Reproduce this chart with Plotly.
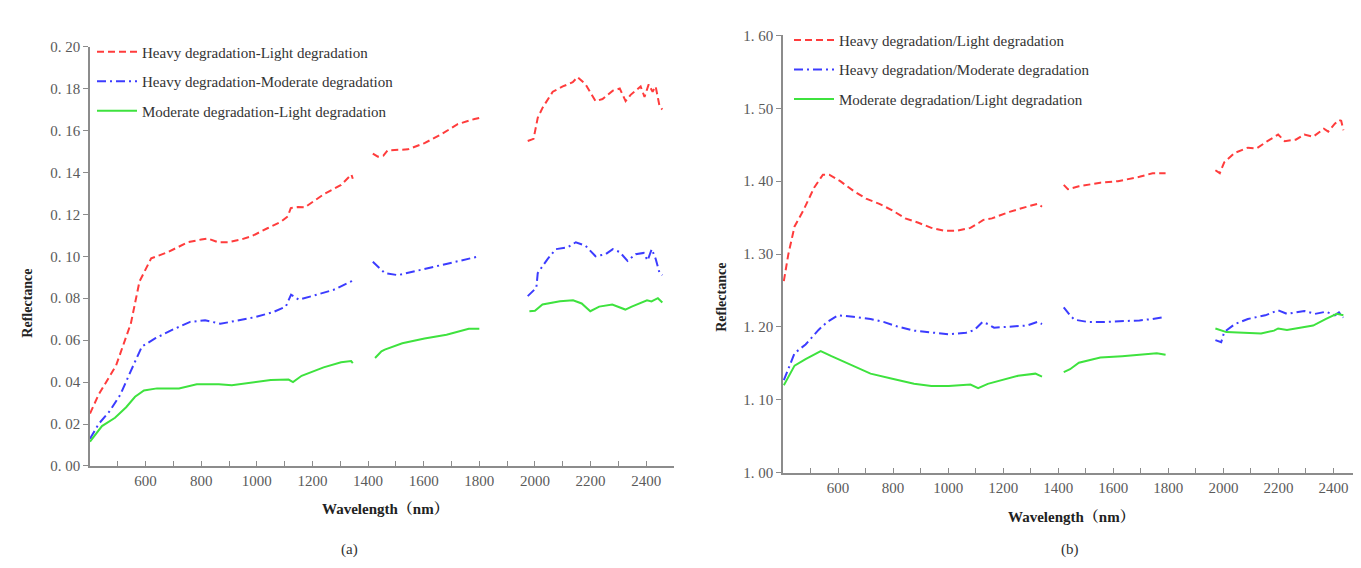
import plotly.graph_objects as go

# ---------------- data: panel (a) differences ----------------
a_red_wl = [400, 431, 494, 547, 578, 608, 620, 680, 752, 800, 824, 860, 896, 943, 980, 1040, 1087, 1111, 1122, 1147,
            1172, 1243, 1303, 1340, 1345, None,
            1417, 1435, 1455, 1470, 1543, 1603, 1661, 1722, 1783, 1800, None,
            1974, 1995, 2010, 2028, 2064, 2100, 2136, 2153, 2182, 2218, 2243, 2280, 2305, 2326, 2344, 2380, 2394,
            2409, 2423, 2434, 2448, 2458]
a_red_v = [0.025, 0.034, 0.048, 0.068, 0.088, 0.0955, 0.099, 0.102, 0.1067, 0.108, 0.1085, 0.1067, 0.1067, 0.108,
           0.1095, 0.1135, 0.1165, 0.119, 0.123, 0.1235, 0.1233, 0.1298, 0.134, 0.139, 0.137, None,
           0.149, 0.1475, 0.148, 0.1505, 0.151, 0.154, 0.158, 0.163, 0.1655, 0.166, None,
           0.155, 0.156, 0.166, 0.171, 0.1785, 0.181, 0.183, 0.1855, 0.182, 0.174, 0.175, 0.179, 0.180, 0.174,
           0.177, 0.181, 0.176, 0.182, 0.1785, 0.181, 0.1716, 0.170]

a_blue_wl = [400, 431, 470, 509, 556, 587, 634, 697, 760, 814, 869, 932, 994, 1057, 1104, 1123, 1151, 1198, 1276,
             1339, 1345, None,
             1417, 1460, 1507, 1603, 1661, 1783, 1800, None,
             1974, 1995, 2005, 2010, 2046, 2075, 2118, 2147, 2182, 2218, 2254, 2280, 2305, 2333, 2362, 2391, 2405,
             2420, 2434, 2448, 2458]
a_blue_v = [0.013, 0.020, 0.026, 0.034, 0.048, 0.057, 0.0608, 0.065, 0.0687, 0.0695, 0.0678, 0.0695, 0.071, 0.0733,
            0.076, 0.0817, 0.0793, 0.081, 0.084, 0.088, 0.087, None,
            0.0974, 0.092, 0.091, 0.094, 0.0957, 0.0995, 0.100, None,
            0.081, 0.0835, 0.085, 0.092, 0.0988, 0.1034, 0.1043, 0.1067, 0.105, 0.100, 0.101, 0.1034, 0.102,
            0.0978, 0.101, 0.1016, 0.098, 0.1034, 0.0988, 0.092, 0.091]

a_green_wl = [400, 443, 490, 530, 562, 594, 641, 720, 784, 863, 910, 989, 1050, 1114, 1130, 1161, 1240, 1303, 1339,
              1345, None,
              1425, 1448, 1460, 1523, 1603, 1682, 1762, 1800, None,
              1980, 2000, 2027, 2090, 2137, 2168, 2199, 2231, 2278, 2325, 2348, 2403, 2419, 2442, 2458]
a_green_v = [0.0116, 0.019, 0.023, 0.028, 0.033, 0.036, 0.037, 0.037, 0.039, 0.039, 0.0385, 0.0398, 0.041, 0.0412,
             0.040, 0.043, 0.047, 0.0495, 0.050, 0.049, None,
             0.0515, 0.0547, 0.0555, 0.0585, 0.0608, 0.0626, 0.0654, 0.0654, None,
             0.0738, 0.074, 0.077, 0.0785, 0.079, 0.0775, 0.0738, 0.076, 0.077, 0.0746, 0.076, 0.079, 0.0785,
             0.080, 0.078]

# ---------------- data: panel (b) ratios ----------------
b_red_wl = [403, 419, 442, 474, 513, 545, 568, 608, 655, 702, 750, 797, 844, 892, 939, 986, 1033, 1081, 1112, 1128,
            1159, 1223, 1286, 1325, 1341, None,
            1420, 1435, 1475, 1553, 1617, 1695, 1743, 1790, None,
            1971, 1987, 2003, 2042, 2089, 2121, 2160, 2199, 2223, 2263, 2294, 2326, 2365, 2381, 2405, 2420, 2428,
            2436]
b_red_v = [1.263, 1.299, 1.338, 1.360, 1.391, 1.409, 1.409, 1.400, 1.387, 1.376, 1.369, 1.360, 1.349, 1.343, 1.336,
           1.332, 1.332, 1.336, 1.343, 1.347, 1.349, 1.358, 1.365, 1.369, 1.365, None,
           1.395, 1.389, 1.393, 1.398, 1.400, 1.406, 1.411, 1.411, None,
           1.415, 1.411, 1.426, 1.439, 1.446, 1.445, 1.455, 1.464, 1.455, 1.457, 1.464, 1.461, 1.472, 1.468,
           1.479, 1.484, 1.483, 1.470]

b_blue_wl = [403, 442, 482, 529, 561, 600, 655, 718, 765, 813, 876, 939, 1002, 1065, 1096, 1125, 1144, 1167, 1223,
             1286, 1325, 1341, None,
             1420, 1443, 1459, 1506, 1569, 1632, 1695, 1743, 1790, None,
             1971, 1992, 2003, 2042, 2089, 2152, 2199, 2231, 2294, 2333, 2373, 2405, 2420, 2436]
b_blue_v = [1.127, 1.164, 1.176, 1.196, 1.207, 1.216, 1.214, 1.211, 1.207, 1.201, 1.195, 1.192, 1.190, 1.192, 1.196,
            1.207, 1.204, 1.199, 1.200, 1.202, 1.207, 1.204, None,
            1.227, 1.216, 1.210, 1.207, 1.207, 1.208, 1.209, 1.211, 1.214, None,
            1.182, 1.179, 1.193, 1.204, 1.211, 1.216, 1.223, 1.218, 1.222, 1.218, 1.221, 1.216, 1.220, 1.213]

b_green_wl = [403, 442, 482, 537, 576, 639, 718, 797, 876, 939, 1002, 1081, 1109, 1144, 1191, 1254, 1317, 1341, None,
              1420, 1443, 1475, 1553, 1632, 1711, 1758, 1790, None,
              1971, 2011, 2074, 2137, 2184, 2199, 2231, 2278, 2326, 2373, 2412, 2436]
b_green_v = [1.120, 1.147, 1.156, 1.167, 1.160, 1.149, 1.136, 1.129, 1.122, 1.119, 1.119, 1.121, 1.116, 1.122, 1.127,
             1.133, 1.136, 1.132, None,
             1.138, 1.142, 1.151, 1.158, 1.160, 1.162, 1.164, 1.162, None,
             1.198, 1.193, 1.192, 1.191, 1.195, 1.198, 1.196, 1.199, 1.202, 1.211, 1.218, 1.216]

names_a = ["Heavy degradation-Light degradation", "Heavy degradation-Moderate degradation",
           "Moderate degradation-Light degradation"]
names_b = ["Heavy degradation/Light degradation", "Heavy degradation/Moderate degradation",
           "Moderate degradation/Light degradation"]

x_tickvals = list(range(500, 2600, 100))
x_ticktext = [str(v) if (v % 200 == 0 and 600 <= v <= 2400) else "" for v in x_tickvals]
ya_tickvals = [0.00, 0.02, 0.04, 0.06, 0.08, 0.10, 0.12, 0.14, 0.16, 0.18, 0.20]
ya_ticktext = ["0. 00", "0. 02", "0. 04", "0. 06", "0. 08", "0. 10", "0. 12", "0. 14", "0. 16", "0. 18", "0. 20"]
yb_tickvals = [1.00, 1.10, 1.20, 1.30, 1.40, 1.50, 1.60]
yb_ticktext = ["1. 00", "1. 10", "1. 20", "1. 30", "1. 40", "1. 50", "1. 60"]

# ---------------- styling ----------------
RED, BLUE, GREEN = "#ff3c3c", "#3c3cff", "#3ee23e"
DASH_RED = "7px,4px"
DASH_BLUE = "9px,4px,2px,4px"
SERIF = "Liberation Serif, Noto Serif CJK SC, Noto Sans CJK SC, serif"
AXC = "#8c8c8c"
W, H = 1361, 568

fig = go.Figure()
styles = [(RED, DASH_RED), (BLUE, DASH_BLUE), (GREEN, "solid")]

for i, (wl, v) in enumerate([(a_red_wl, a_red_v), (a_blue_wl, a_blue_v), (a_green_wl, a_green_v)]):
    c, d = styles[i]
    fig.add_trace(go.Scatter(x=wl, y=v, mode="lines", name=names_a[i], connectgaps=False,
                             line=dict(color=c, dash=d, width=2), xaxis="x", yaxis="y",
                             legend="legend", legendgroup="a%d" % i))
for i, (wl, v) in enumerate([(b_red_wl, b_red_v), (b_blue_wl, b_blue_v), (b_green_wl, b_green_v)]):
    c, d = styles[i]
    fig.add_trace(go.Scatter(x=wl, y=v, mode="lines", name=names_b[i], connectgaps=False,
                             line=dict(color=c, dash=d, width=2), xaxis="x2", yaxis="y2",
                             legend="legend2", legendgroup="b%d" % i))


def px_x(p):
    return p / W


def px_y(p):
    return 1 - p / H


common_x = dict(range=[400, 2500], tickmode="array", tickvals=x_tickvals, ticktext=x_ticktext,
                showline=True, linecolor=AXC, linewidth=1.5, ticks="inside", ticklen=5, tickcolor=AXC,
                showgrid=False, zeroline=False, tickfont=dict(family=SERIF, size=15, color="#5a5a5a"))
common_y = dict(tickmode="array", showline=True, linecolor=AXC, linewidth=1.5, ticks="outside",
                ticklen=5, tickcolor=AXC, showgrid=False, zeroline=False,
                tickfont=dict(family=SERIF, size=15, color="#5a5a5a"))

fig.update_layout(
    width=W, height=H, margin=dict(l=0, r=0, t=0, b=0),
    paper_bgcolor="white", plot_bgcolor="white",
    xaxis=dict(domain=[px_x(82), px_x(666)], anchor="y", **common_x),
    yaxis=dict(domain=[px_y(463), px_y(31.5)], anchor="x", range=[0, 0.2],
               tickvals=ya_tickvals, ticktext=ya_ticktext, **common_y),
    xaxis2=dict(domain=[px_x(775), px_x(1353)], anchor="y2", **common_x),
    yaxis2=dict(domain=[px_y(470), px_y(20)], anchor="x2", range=[1.0, 1.6],
                tickvals=yb_tickvals, ticktext=yb_ticktext, **common_y),
    legend=dict(x=px_x(84), y=px_y(20), xanchor="left", yanchor="top", bgcolor="rgba(0,0,0,0)",
                font=dict(family=SERIF, size=15, color="#333333"), itemwidth=40, tracegroupgap=7),
    legend2=dict(x=px_x(781), y=px_y(8), xanchor="left", yanchor="top", bgcolor="rgba(0,0,0,0)",
                 font=dict(family=SERIF, size=15, color="#333333"), itemwidth=40, tracegroupgap=7),
    showlegend=True,
)

ann = [
    dict(text="<b>Wavelength（nm）</b>", x=px_x(378), y=px_y(507), font=dict(family=SERIF, size=15, color="#222")),
    dict(text="<b>Wavelength（nm）</b>", x=px_x(1063), y=px_y(516), font=dict(family=SERIF, size=15, color="#222")),
    dict(text="<b>Reflectance</b>", x=px_x(20), y=px_y(296), textangle=-90,
         font=dict(family=SERIF, size=14, color="#222")),
    dict(text="<b>Reflectance</b>", x=px_x(714), y=px_y(290), textangle=-90,
         font=dict(family=SERIF, size=14, color="#222")),
    dict(text="(a)", x=px_x(341), y=px_y(549), font=dict(family=SERIF, size=15, color="#333")),
    dict(text="(b)", x=px_x(1062), y=px_y(549), font=dict(family=SERIF, size=15, color="#333")),
]
for a in ann:
    a.update(xref="paper", yref="paper", showarrow=False, xanchor="center", yanchor="middle")
    fig.add_annotation(**a)

fig.write_html("out.html")
